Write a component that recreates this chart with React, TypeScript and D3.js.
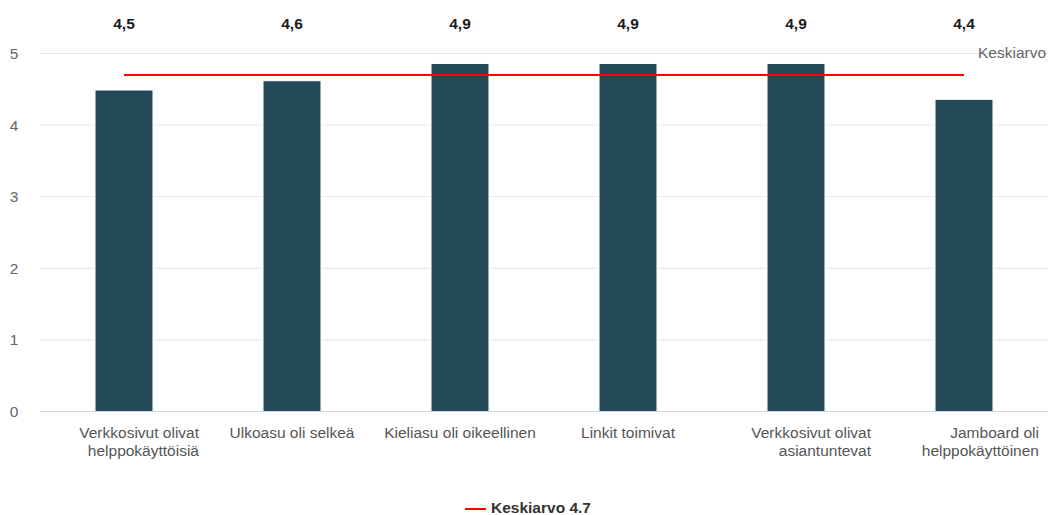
import React from "react";
import * as d3 from "d3";

// Survey results: mean score per statement (scale 0–5)
const categories: string[][] = [
  ["Verkkosivut olivat", "helppokäyttöisiä"],
  ["Ulkoasu oli selkeä"],
  ["Kieliasu oli oikeellinen"],
  ["Linkit toimivat"],
  ["Verkkosivut olivat", "asiantuntevat"],
  ["Jamboard oli", "helppokäyttöinen"],
];
const scores: number[] = [4.49, 4.62, 4.86, 4.86, 4.86, 4.36];
const average = 4.7;
const yTicks: number[] = [0, 1, 2, 3, 4, 5];
const averageLabel = "Keskiarvo";
const legendLabel = "Keskiarvo 4.7";

const W = 1050;
const H = 515;
const FONT = '"Liberation Sans", Arial, Helvetica, sans-serif';
const FS = 15.5;

const fmt = (v: number) => v.toFixed(1).replace(".", ",");

export default function App() {
  const pad = 0.655;
  const x = d3
    .scaleBand<number>()
    .domain(categories.map((_, i) => i))
    .range([40, 1048])
    .paddingInner(pad)
    .paddingOuter(pad / 2);
  const y = d3.scaleLinear().domain([0, 5]).range([411.5, 53.5]);
  const cx = (i: number) => (x(i) as number) + x.bandwidth() / 2;
  const halfStep = x.step() / 2;

  const line = d3
    .line<number>()
    .x((i) => cx(i))
    .y(() => y(average));

  return (
    <div style={{ position: "absolute", left: 0, top: 0 }}>
      <svg width={W} height={H} style={{ display: "block", fontFamily: FONT }}>
        <rect width={W} height={H} fill="#ffffff" />
        {/* grid */}
        {yTicks.map((t) => (
          <g key={t}>
            {t > 0 && (
              <line x1={40} x2={1048} y1={y(t)} y2={y(t)} stroke="#e6e6e6" strokeWidth={1} />
            )}
            <text x={14} y={y(t) + 5.5} fontSize={FS} fill="#666666" textAnchor="middle">
              {t}
            </text>
          </g>
        ))}
        {/* bars */}
        {scores.map((v, i) => (
          <rect
            key={i}
            x={x(i)}
            y={y(v)}
            width={x.bandwidth()}
            height={y(0) - y(v)}
            fill="#234a59"
            stroke="#ffffff"
            strokeWidth={1}
          />
        ))}
        <line x1={40} x2={1048} y1={y(0)} y2={y(0)} stroke="#ccd6eb" strokeWidth={1} />
        {/* average line */}
        <path d={line([0, categories.length - 1]) ?? ""} stroke="#ff0000" strokeWidth={2} fill="none" />
        <text x={978} y={58} fontSize={FS} fill="#666666">
          {averageLabel}
        </text>
        {/* value labels */}
        {scores.map((v, i) => (
          <text key={i} x={cx(i)} y={29} fontSize={FS} fontWeight="bold" fill="#1a1a1a" textAnchor="middle">
            {fmt(v)}
          </text>
        ))}
        {/* category labels */}
        {categories.map((lines, i) => {
          const multi = lines.length > 1;
          const tx = multi ? cx(i) + halfStep - 9 : cx(i);
          return (
            <text
              key={i}
              x={tx}
              y={437.5}
              fontSize={FS}
              fill="#555555"
              textAnchor={multi ? "end" : "middle"}
            >
              {lines.map((l, j) => (
                <tspan key={j} x={tx} dy={j === 0 ? 0 : 18.5}>
                  {l}
                </tspan>
              ))}
            </text>
          );
        })}
        {/* legend */}
        <line x1={465} x2={486} y1={509} y2={509} stroke="#ff0000" strokeWidth={2} />
        <text x={491} y={513} fontSize={FS} fontWeight="bold" fill="#333333">
          {legendLabel}
        </text>
      </svg>
    </div>
  );
}
